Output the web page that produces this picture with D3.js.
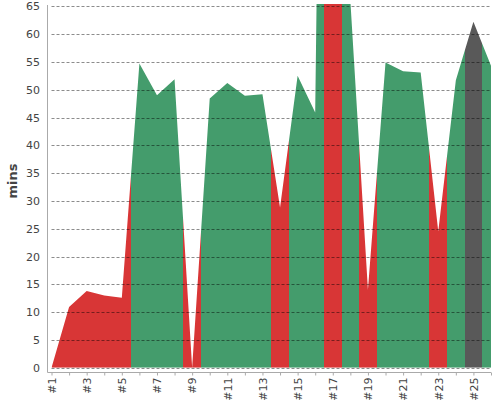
<!DOCTYPE html>
<html>
<head>
<meta charset="utf-8">
<script src="https://cdn.jsdelivr.net/npm/d3@7"></script>
<style>
  body { margin: 0; background: #fff; }
  svg { display: block; }
  svg text { font-family: "DejaVu Sans", sans-serif; }
</style>
</head>
<body>
<div id="chart"></div>
<script>
// Datos
const labels = d3.range(1, 27).map(i => '#' + i);
const values = [0, 10.9, 13.8, 13.0, 12.6, 54.7, 49.0, 51.9, 0, 48.4, 51.2, 48.9, 49.2,
    28.8, 52.5, 45.9, 300, 66, 14.0, 54.9, 53.3, 53.1, 24.5, 51.7, 62.2, 54.3];
const status = ['bad', 'bad', 'bad', 'bad', 'bad', 'good', 'good', 'good', 'bad', 'good',
    'good', 'good', 'good', 'bad', 'good', 'good', 'bad', 'good', 'bad', 'good',
    'good', 'good', 'bad', 'good', 'neutral', 'good'];
const yTicks = d3.range(0, 70, 5);

const data = values.map((v, i) => ({ idx: i + 1, label: labels[i], value: v, status: status[i] }));

const width = 500, height = 400;
const colors = { bad: '#d83636', good: '#449c6c', neutral: '#595959' };

const svg = d3.select('#chart')
    .append('svg')
    .attr('width', width)
    .attr('height', height);

// Escalas
const x = d3.scaleLinear().domain([1, 26]).range([51.5, 491]);
const y = d3.scaleLinear().domain([0, 65]).range([367.7, 6.3]);

const defs = svg.append('defs');
defs.append('clipPath').attr('id', 'plot-clip')
    .append('rect')
    .attr('x', x(1)).attr('y', 4)
    .attr('width', x(26) - x(1)).attr('height', y(0) - 4);

const area = d3.area()
    .x(d => x(d.idx))
    .y0(y(0))
    .y1(d => y(d.value));

defs.append('clipPath').attr('id', 'area-clip')
    .append('path')
    .attr('d', area(data));

// Bandas de color recortadas por el area
svg.append('g')
    .attr('clip-path', 'url(#plot-clip)')
    .append('g')
    .attr('clip-path', 'url(#area-clip)')
    .selectAll('rect')
    .data(data)
    .join('rect')
    .attr('x', d => Math.round(x(d.idx - 0.5)))
    .attr('y', 0)
    .attr('width', d => Math.round(x(d.idx + 0.5)) - Math.round(x(d.idx - 0.5)))
    .attr('height', y(0))
    .attr('shape-rendering', 'crispEdges')
    .attr('fill', d => colors[d.status]);

// Rejilla
svg.append('g')
    .selectAll('line')
    .data(yTicks)
    .join('line')
    .attr('x1', x(1)).attr('x2', x(26))
    .attr('y1', d => Math.round(y(d)) + 0.5)
    .attr('y2', d => Math.round(y(d)) + 0.5)
    .attr('stroke', '#000')
    .attr('stroke-opacity', 0.45)
    .attr('stroke-dasharray', '3,2');

// Eje Y
const yAxis = svg.append('g')
    .attr('transform', 'translate(48,0)')
    .call(d3.axisLeft(y).tickValues(yTicks).tickSize(0).tickPadding(8));
yAxis.select('.domain').remove();
yAxis.selectAll('text').attr('font-size', '11px').attr('fill', '#444');

// Eje X
const xAxis = svg.append('g')
    .attr('transform', 'translate(0,372.5)')
    .call(d3.axisBottom(x)
        .tickValues(data.map(d => d.idx))
        .tickSize(3)
        .tickSizeOuter(0)
        .tickFormat(i => i % 2 === 1 ? labels[i - 1] : ''));
xAxis.select('.domain').remove();
xAxis.selectAll('.tick line').attr('stroke', '#aaa');
xAxis.selectAll('text')
    .attr('font-size', '11px')
    .attr('fill', '#444')
    .attr('text-anchor', 'end')
    .attr('transform', 'rotate(-90)')
    .attr('x', -5)
    .attr('y', 0)
    .attr('dy', '0.35em');

// Lineas de los ejes
svg.append('line')
    .attr('x1', 47.5).attr('x2', 47.5).attr('y1', 5).attr('y2', 372.5)
    .attr('stroke', '#aaa');
svg.append('line')
    .attr('x1', 47.5).attr('x2', x(26)).attr('y1', 372.5).attr('y2', 372.5)
    .attr('stroke', '#aaa');

// Titulo del eje Y
svg.append('text')
    .attr('transform', 'translate(17,181) rotate(-90)')
    .attr('text-anchor', 'middle')
    .attr('font-size', '13px')
    .attr('font-weight', 'bold')
    .attr('fill', '#444')
    .text('mins');
</script>
</body>
</html>
